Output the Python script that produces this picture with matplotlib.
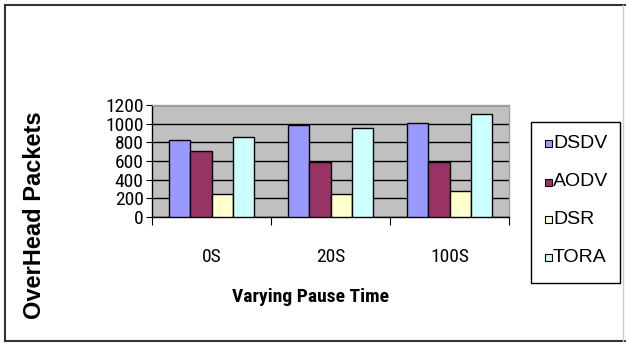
import matplotlib
matplotlib.use("Agg")
import matplotlib.pyplot as plt
from matplotlib.lines import Line2D
from matplotlib.patches import Rectangle
from matplotlib import font_manager
import numpy as np

categories = ["0S", "20S", "100S"]
series = ["DSDV", "AODV", "DSR", "TORA"]
dsdv = [820, 990, 1010]
aodv = [710, 590, 590]
dsr = [250, 250, 280]
tora = [860, 950, 1100]
values = [dsdv, aodv, dsr, tora]
colors = ["#9999FF", "#993366", "#FFFFCC", "#CCFFFF"]
yticks = [0, 200, 400, 600, 800, 1000, 1200]

names = {f.name for f in font_manager.fontManager.ttflist}
narrow_name = None
for cand in ["Liberation Sans Narrow", "Arial Narrow", "Roboto Condensed", "Open Sans Condensed"]:
    if cand in names:
        narrow_name = cand
        break
narrow = [narrow_name, "DejaVu Sans"] if narrow_name else ["DejaVu Sans"]
stretch = "normal" if narrow_name else "condensed"
plt.rcParams['font.family'] = narrow
plt.rcParams['font.stretch'] = stretch
regular = ["Liberation Sans", "DejaVu Sans"]

W, H = 626, 345
fig = plt.figure(figsize=(W / 100, H / 100), dpi=100)
ax = fig.add_axes([152 / W, 1 - 217 / H, (509 - 152) / W, (217 - 105) / H])
ax.set_facecolor("#C0C0C0")

x = np.arange(len(categories))
bw = 0.18
offsets = (np.arange(len(series)) - 1.5) * bw
for i, (name, vals, c) in enumerate(zip(series, values, colors)):
    ax.bar(x + offsets[i], vals, bw, color=c, edgecolor="black", linewidth=1.0,
           label=name, zorder=3)

ax.set_ylim(0, 1200)
ax.set_xlim(-0.5, 2.5)
ax.set_yticks(yticks)
ax.set_yticklabels([str(v) for v in yticks], fontsize=14)
ax.yaxis.grid(True, color="black", linewidth=1.0, zorder=1)
ax.set_axisbelow(True)
ax.set_xticks([-0.5, 0.5, 1.5, 2.5])
ax.set_xticklabels([])
ax.set_xticks(x, minor=True)
ax.set_xticklabels(categories, minor=True, fontsize=14)
ax.tick_params(axis="x", which="minor", length=0, pad=22)
ax.tick_params(axis="x", which="major", length=6, direction="out", color="black")
ax.tick_params(axis="y", length=4, direction="out", pad=2)
for s in ["left", "bottom"]:
    ax.spines[s].set_color("black")
    ax.spines[s].set_linewidth(1.0)
for s in ["top", "right"]:
    ax.spines[s].set_color("#A0A0A0")
    ax.spines[s].set_linewidth(1.0)

fig.text(311 / W, 1 - 297 / H, "Varying Pause Time", ha="center", va="center",
         fontsize=14, fontweight="bold", family=narrow, fontstretch=stretch)
fig.text(35 / W, 1 - 215 / H, "OverHead Packets", ha="center", va="center",
         rotation=90, fontsize=17, fontweight="bold",
         family=regular, fontstretch="normal")

# legend drawn as a box with entries
fig.add_artist(Rectangle((531 / W, 1 - 283 / H), (620 - 531) / W, (283 - 122) / H,
                         transform=fig.transFigure, facecolor="white",
                         edgecolor="black", linewidth=1.0))
entry_y = [143, 182, 219, 257]
for name, c, yy in zip(series, colors, entry_y):
    fig.add_artist(Rectangle((545 / W, 1 - (yy + 3.5) / H), 7 / W, 7 / H,
                             transform=fig.transFigure, facecolor=c,
                             edgecolor="black", linewidth=0.8))
    fig.text(553 / W, 1 - yy / H, name, ha="left", va="center", fontsize=14,
             family=regular, fontstretch="normal")

# outer frame
fig.add_artist(Line2D([5 / W, 5 / W], [1 - 341 / H, 1 - 5 / H], color="#333333", linewidth=1.5, transform=fig.transFigure))
fig.add_artist(Line2D([5 / W, 1.0], [1 - 5 / H, 1 - 5 / H], color="#333333", linewidth=1.5, transform=fig.transFigure))
fig.add_artist(Line2D([5 / W, 1.0], [1 - 341 / H, 1 - 341 / H], color="#333333", linewidth=1.5, transform=fig.transFigure))
fig.add_artist(Line2D([623 / W, 623 / W], [1 - 341 / H, 1 - 5 / H], color="#CCCCCC", linewidth=1.0, transform=fig.transFigure))

fig.savefig("out.png", dpi=100)
